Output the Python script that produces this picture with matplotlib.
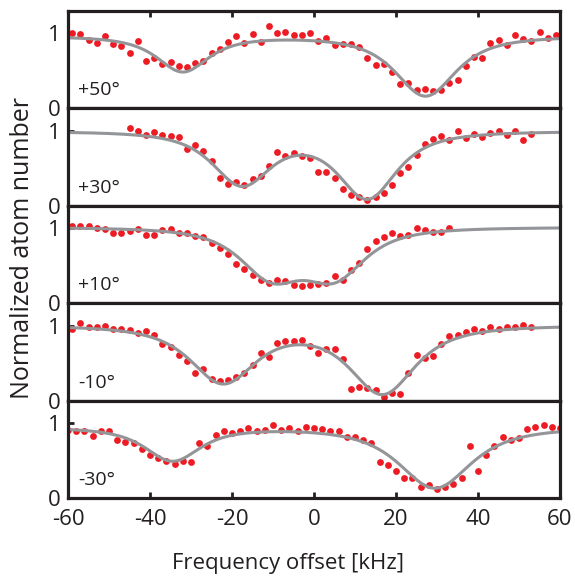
import numpy as np
import matplotlib
matplotlib.use("Agg")
import matplotlib.pyplot as plt

plt.rcParams['font.family'] = ['Open Sans', 'DejaVu Sans']

# ---------------- data ----------------
angle_labels = ["+50°", "+30°", "+10°", "-10°", "-30°"]

x_p1 = np.arange(-59, 60, 2)
y_p1 = [1.00, 0.99, 0.91, 0.87, 0.96, 0.86, 0.83, 0.74, 0.89, 0.63,
        0.67, 0.59, 0.61, 0.56, 0.55, 0.60, 0.63, 0.73, 0.79, 0.88,
        0.96, 0.87, 0.99, 0.88, 1.09, 1.00, 1.01, 0.98, 0.98, 1.00,
        0.90, 0.94, 0.84, 0.85, 0.85, 0.81, 0.67, 0.58, 0.59, 0.48,
        0.32, 0.34, 0.24, 0.25, 0.23, 0.24, 0.34, 0.38, 0.56, 0.68,
        0.67, 0.87, 0.91, 0.84, 0.98, 0.92, 0.90, 1.01, 0.93, 0.98]

x_p2 = np.arange(-45, 54, 2)
y_p2 = [1.03, 0.99, 0.94, 0.98, 0.94, 0.93, 0.92, 0.76, 0.81, 0.73,
        0.59, 0.37, 0.29, 0.32, 0.28, 0.35, 0.39, 0.53, 0.71, 0.66,
        0.70, 0.66, 0.64, 0.45, 0.45, 0.37, 0.22, 0.14, 0.11, 0.08,
        0.12, 0.17, 0.28, 0.43, 0.51, 0.68, 0.82, 0.89, 0.93, 0.88,
        0.99, 0.90, 0.95, 0.92, 0.97, 0.99, 0.94, 1.00, 0.87, 0.95]

x_p3 = np.arange(-59, 34, 2)
y_p3 = [1.03, 1.03, 1.03, 1.00, 0.99, 0.93, 0.93, 0.96, 0.99, 0.91,
        0.91, 0.98, 0.99, 0.94, 0.94, 0.89, 0.88, 0.80, 0.73, 0.65,
        0.52, 0.46, 0.38, 0.31, 0.27, 0.31, 0.29, 0.24, 0.23, 0.24,
        0.25, 0.27, 0.36, 0.31, 0.44, 0.54, 0.72, 0.83, 0.88, 0.93,
        0.90, 0.91, 1.00, 0.97, 0.95, 0.95, 1.00]

x_p4 = np.arange(-59, 54, 2)
y_p4 = [0.95, 1.03, 0.98, 0.98, 1.00, 0.96, 0.96, 0.94, 0.90, 0.93,
        0.87, 0.75, 0.71, 0.61, 0.53, 0.37, 0.42, 0.29, 0.26, 0.27,
        0.32, 0.37, 0.48, 0.64, 0.58, 0.77, 0.79, 0.79, 0.81, 0.73,
        0.64, 0.69, 0.69, 0.55, 0.15, 0.18, 0.17, 0.14, 0.05, 0.10,
        0.09, 0.37, 0.61, 0.57, 0.59, 0.76, 0.86, 0.87, 0.91, 0.95,
        0.93, 0.98, 0.96, 0.98, 0.98, 1.01, 0.98]

x_p5 = np.arange(-60, 61, 2)
y_p5 = [0.91, 0.90, 0.89, 0.83, 0.90, 0.89, 0.78, 0.75, 0.73, 0.65,
        0.57, 0.54, 0.49, 0.45, 0.49, 0.48, 0.74, 0.70, 0.84, 0.90,
        0.87, 0.89, 0.93, 0.90, 0.91, 0.98, 0.91, 0.93, 0.90, 0.95,
        0.94, 0.92, 0.89, 0.89, 0.81, 0.81, 0.78, 0.74, 0.48, 0.44,
        0.36, 0.27, 0.27, 0.15, 0.18, 0.12, 0.15, 0.19, 0.27, 0.70,
        0.36, 0.58, 0.70, 0.82, 0.78, 0.80, 0.92, 0.95, 0.97, 0.95,
        0.93]

# fit-curve parameters per panel: baseline, centres, depths, half widths
fit_base = [0.957, 0.99, 1.01, 1.00, 0.94]
fit_centers = [[-32.0, 27.2], [-17.6, 13.0], [-10.5, 5.0], [-22.2, 16.7], [-34.5, 29.5]]
fit_depths = [[0.47, 0.795], [0.70, 0.88], [0.61, 0.61], [0.755, 0.90], [0.443, 0.808]]
fit_widths = [[7.5, 8.8], [8.5, 8.5], [9.0, 9.0], [9.5, 9.5], [8.0, 10.5]]
fit_shape = 1.5

xticks = [-60, -40, -20, 0, 20, 40, 60]
xtick_labels = ["-60", "-40", "-20", "0", "20", "40", "60"]

xs_data = [x_p1, x_p2, x_p3, x_p4, x_p5]
ys_data = [y_p1, y_p2, y_p3, y_p4, y_p5]


def fit_curve(x, base, centers, depths, widths, p):
    k = 2 ** (1.0 / p) - 1
    y = np.full_like(x, base, dtype=float)
    for c, d, w in zip(centers, depths, widths):
        y -= d / (1 + k * ((x - c) / w) ** 2) ** p
    return y


red = "#ED1C24"
gray = "#939598"
ink = "#231F20"

fig = plt.figure(figsize=(5.75, 5.78), dpi=100)
left, right = 68 / 575, 560 / 575
top, bottom = 1 - 10.7 / 578, 1 - 498 / 578
h = (top - bottom) / 5

xf = np.linspace(-60, 60, 600)
for i in range(5):
    ax = fig.add_axes([left, top - (i + 1) * h, right - left, h])
    ax.plot(xs_data[i], ys_data[i], 'o', color=red, ms=4.9, mec='none', zorder=2)
    ax.plot(xf, fit_curve(xf, fit_base[i], fit_centers[i], fit_depths[i],
                          fit_widths[i], fit_shape),
            color=gray, lw=2.2, zorder=3, solid_capstyle='butt')
    ax.set_xlim(-60, 60)
    ax.set_ylim(0, 1.3)
    for s in ax.spines.values():
        s.set_linewidth(2.3)
        s.set_color(ink)
        s.set_zorder(5)
    ax.set_yticks([0, 1])
    ax.set_yticklabels(["0", "1"])
    ax.tick_params(axis='y', direction='in', length=4, width=2, color=ink,
                   labelsize=16, pad=5, labelcolor=ink)
    ax.set_xticks(xticks)
    if i == 4:
        ax.set_xticklabels(xtick_labels)
        ax.tick_params(axis='x', direction='in', length=4, width=2, color=ink,
                       labelsize=16, pad=8, labelcolor=ink)
    elif i == 0:
        ax.tick_params(axis='x', direction='in', length=4, width=2, color=ink,
                       bottom=False, top=True, labelbottom=False)
    else:
        ax.tick_params(axis='x', bottom=False, labelbottom=False)
    ax.text(0.02, 0.13, angle_labels[i], transform=ax.transAxes,
            fontsize=14, color=ink, va='baseline', ha='left')

fig.text(0.5, 1 - 569 / 578, "Frequency offset [kHz]", ha='center', va='baseline',
         fontsize=16, color=ink)
fig.text(23 / 575, 1 - 248 / 578, "Normalized atom number", rotation=90,
         ha='center', va='center', fontsize=18, color=ink)

fig.savefig("out.png", dpi=100)
